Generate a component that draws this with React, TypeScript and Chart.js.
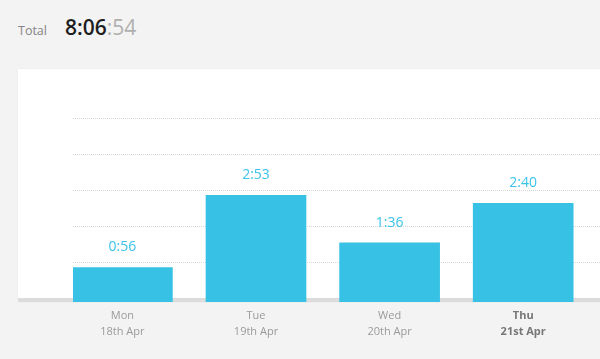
import React, { useEffect, useRef } from "react";
import { Chart, registerables } from "chart.js";

Chart.register(...registerables);

const days = ["Mon", "Tue", "Wed", "Thu"];
const dates = ["18th Apr", "19th Apr", "20th Apr", "21st Apr"];
const minutes = [56, 173, 96, 160];
const highlightIndex = 3;
const totalMain = "8:06";
const totalSeconds = ":54";
const yMax = 360;

const FONT = "'Open Sans', 'Noto Sans', sans-serif";
const BAR = "#37c1e4";

function fmt(m: number) {
  return `${Math.floor(m / 60)}:${String(m % 60).padStart(2, "0")}`;
}

// layout constants (pixels)
const W = 600;
const H = 359;
const areaTop = 80;
const areaBottom = 302;
const gridBase = 298;
const gridStep = 36;

const valueLabels = {
  id: "valueLabels",
  afterDatasetsDraw(chart: any) {
    const ctx = chart.ctx;
    const meta = chart.getDatasetMeta(0);
    ctx.save();
    ctx.font = `14px ${FONT}`;
    ctx.fillStyle = "#3bc3ea";
    ctx.textAlign = "center";
    ctx.textBaseline = "middle";
    meta.data.forEach((bar: any, i: number) => {
      ctx.fillText(fmt(minutes[i]), bar.x, bar.y - 20);
    });
    ctx.restore();
  },
};

export default function App() {
  const ref = useRef<HTMLCanvasElement>(null);
  useEffect(() => {
    if (!ref.current) return;
    const xMin = -(122.4 - 73) / 133.6;
    const xMax = xMin + (600 - 73) / 133.6;
    const chart = new Chart(ref.current, {
      type: "bar",
      data: {
        datasets: [
          {
            data: minutes.map((v, i) => ({ x: i, y: v })),
            backgroundColor: BAR,
            borderWidth: 0,
            barThickness: 100,
            yAxisID: "y",
          } as any,
        ],
      },
      plugins: [valueLabels],
      options: {
        responsive: false,
        animation: false,
        events: [],
        layout: { padding: { left: 73, right: 0, top: areaTop, bottom: H - areaBottom - 44 } },
        plugins: { legend: { display: false }, tooltip: { enabled: false } },
        scales: {
          x: {
            type: "linear",
            offset: false,
            bounds: "ticks",
            min: xMin,
            max: xMax,
            grid: { display: false, drawTicks: false, offset: false },
            border: { display: false },
            afterBuildTicks: (axis: any) => {
              axis.ticks = days.map((_, i) => ({ value: i }));
            },
            ticks: {
              autoSkip: false,
              maxRotation: 0,
              padding: 6,
              color: (c: any) => (c.tick && c.tick.value === highlightIndex ? "#777" : "#9a9a9a"),
              font: (c: any) => ({
                family: FONT,
                size: 11,
                lineHeight: "16px",
                weight: c.tick && c.tick.value === highlightIndex ? "bold" : "normal",
              }),
              callback: (v: any) => {
                const i = Math.round(Number(v));
                if (i >= 0 && i < days.length) return [days[i], dates[i]];
                return "";
              },
            },
          },
          y: {
            display: false,
            min: 0,
            max: yMax,
          },
          yg: {
            position: "left",
            min: (gridBase - areaBottom) / gridStep,
            max: (gridBase - areaTop) / gridStep,
            ticks: { display: false, stepSize: 1 },
            border: { display: false, dash: [1, 1] },
            grid: {
              drawTicks: false,
              color: (c: any) => {
                const v = c.tick ? c.tick.value : -1;
                return Number.isInteger(v) && v >= 1 && v <= 5 ? "#d6d6d6" : "rgba(0,0,0,0)";
              },
            },
          },
        } as any,
      },
    });
    return () => chart.destroy();
  }, []);

  return (
    <div
      style={{
        position: "fixed",
        left: 0,
        top: 0,
        width: W,
        height: H,
        background: "#f3f3f3",
        overflow: "hidden",
        fontFamily: FONT,
      }}
    >
      <div style={{ position: "absolute", left: 18, top: 13, display: "flex", alignItems: "baseline" }}>
        <span style={{ fontSize: 12.5, color: "#858585", marginRight: 18 }}>Total</span>
        <span style={{ fontSize: 21, color: "#1e1e1e", fontWeight: 600, letterSpacing: 0 }}>{totalMain}</span>
        <span style={{ fontSize: 21, color: "#b0b0b0", fontWeight: 400 }}>{totalSeconds}</span>
      </div>
      <div
        style={{
          position: "absolute",
          left: 18,
          top: 69,
          width: 600,
          height: 298 - 69,
          background: "#ffffff",
          borderBottom: "4px solid #dcdcdc",
          boxShadow: "0 0 2px rgba(0,0,0,0.05)",
        }}
      />
      <canvas ref={ref} width={W} height={H} style={{ position: "absolute", left: 0, top: 0 }} />
    </div>
  );
}
